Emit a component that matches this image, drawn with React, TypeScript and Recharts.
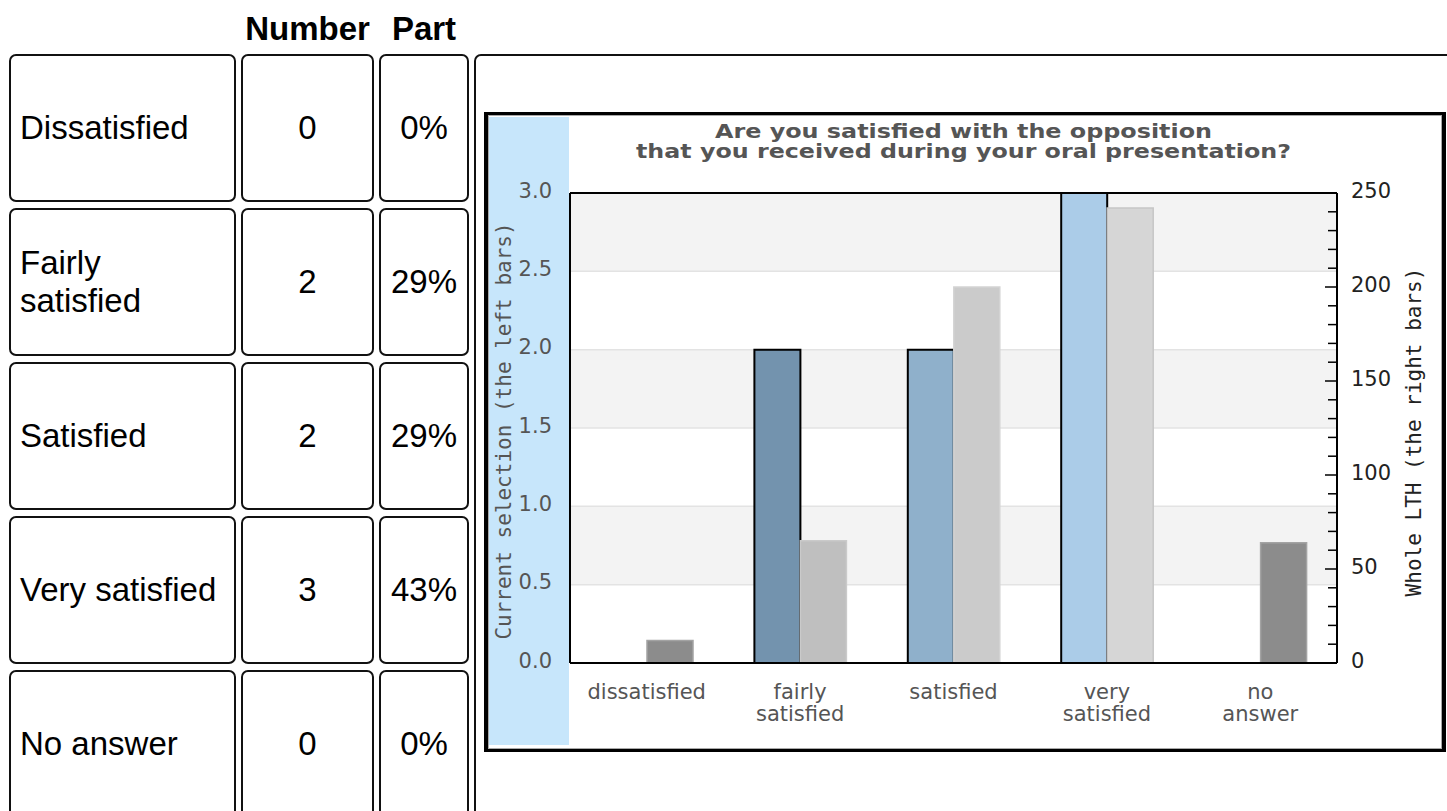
import React from 'react';
import { BarChart, Bar, XAxis, YAxis, CartesianGrid, Cell, ReferenceLine } from 'recharts';

// ---------- data ----------
const categories = ['dissatisfied', 'fairly satisfied', 'satisfied', 'very satisfied', 'no answer'];
const tickLabelLines = [['dissatisfied'], ['fairly', 'satisfied'], ['satisfied'], ['very', 'satisfied'], ['no', 'answer']];
const currentSelection = [0, 2, 2, 3, 0];
const wholeLTH = [12, 65, 200, 242, 64];
const leftTicks = [0, 0.5, 1, 1.5, 2, 2.5, 3];
const rightTicks = [0, 10, 20, 30, 40, 50, 60, 70, 80, 90, 100, 110, 120, 130, 140, 150, 160, 170, 180, 190, 200, 210, 220, 230, 240, 250];
const rightLabeledTicks = [0, 50, 100, 150, 200, 250];

const tableLabels = ['Dissatisfied', 'Fairly satisfied', 'Satisfied', 'Very satisfied', 'No answer'];
const tableCounts = ['0', '2', '2', '3', '0'];
const tableParts = ['0%', '29%', '29%', '43%', '0%'];

const titleLines = ['Are you satisfied with the opposition', 'that you received during your oral presentation?'];
const leftAxisTitle = 'Current selection (the left bars)';
const rightAxisTitle = 'Whole LTH (the right bars)';

// ---------- styles ----------
const currentColors = ['#7393ae', '#7393ae', '#8fb0cb', '#abcce8', '#abcce8'];
const wholeColors = ['#8c8c8c', '#bfbfbf', '#cbcbcb', '#d6d6d6', '#8c8c8c'];
const wholeStrokes = ['#a3a3a3', '#cacaca', '#d4d4d4', '#c6c6c6', '#a3a3a3'];

const data = categories.map((c, i) => ({ category: c, current: currentSelection[i], whole: wholeLTH[i] }));

const SANS = '"DejaVu Sans", sans-serif';
const MONO = '"DejaVu Sans Mono", monospace';
const HTMLFONT = '"Liberation Sans", Arial, Helvetica, sans-serif';

const LeftTick = (props: any) => {
  const { x, y, payload } = props;
  return (
    <text x={x} y={y + 4.6} textAnchor="end" fontFamily={SANS} fontSize={21} fill="#555">
      {Number(payload.value).toFixed(1)}
    </text>
  );
};

const RightTick = (props: any) => {
  const { x, y, payload } = props;
  const v = Number(payload.value);
  const major = rightLabeledTicks.includes(v);
  const axisX = x - 14;
  return (
    <g>
      <line x1={axisX - (major ? 12 : 9)} x2={axisX} y1={y} y2={y} stroke="#000" strokeWidth={1.5} />
      {major && (
        <text x={x} y={y + 4.6} textAnchor="start" fontFamily={SANS} fontSize={21} fill="#222">
          {v}
        </text>
      )}
    </g>
  );
};

const XTick = (props: any) => {
  const { x, y, payload } = props;
  const idx = categories.indexOf(payload.value);
  const lines = idx >= 0 ? tickLabelLines[idx] : [String(payload.value)];
  return (
    <g>
      {lines.map((l, i) => (
        <text key={i} x={x} y={y + 36 + i * 22} textAnchor="middle" fontFamily={SANS} fontSize={21} fill="#555">
          {l}
        </text>
      ))}
    </g>
  );
};

const LeftAxisLabel = (props: any) => {
  const vb = props.viewBox || { x: 0, y: 77, width: 82, height: 470 };
  const cx = vb.x + 16;
  const cy = vb.y + vb.height / 2 + 3;
  return (
    <text x={cx} y={cy} transform={`rotate(-90 ${cx} ${cy})`} textAnchor="middle" dominantBaseline="central"
      fontFamily={MONO} fontSize={21} fill="#555">
      {leftAxisTitle}
    </text>
  );
};

const RightAxisLabel = (props: any) => {
  const vb = props.viewBox || { x: 849, y: 77, width: 104, height: 470 };
  const cx = vb.x + 77;
  const cy = vb.y + vb.height / 2 + 4;
  return (
    <text x={cx} y={cy} transform={`rotate(-90 ${cx} ${cy})`} textAnchor="middle" dominantBaseline="central"
      fontFamily={MONO} fontSize={21} fill="#222">
      {rightAxisTitle}
    </text>
  );
};

const cellBase: React.CSSProperties = {
  position: 'absolute',
  boxSizing: 'border-box',
  border: '2px solid #111',
  borderRadius: 7,
  background: '#fff',
  display: 'flex',
  alignItems: 'center',
  fontFamily: HTMLFONT,
  fontSize: 33,
  lineHeight: '38px',
  color: '#000',
};

const colLefts = [9, 241, 379];
const colWidths = [227, 133, 90];

export default function App() {
  return (
    <div style={{ position: 'absolute', left: 0, top: 0, width: 1447, height: 811, overflow: 'hidden', background: '#fff' }}>
      {/* headers */}
      <div style={{ position: 'absolute', left: colLefts[1], top: 10, width: colWidths[1], textAlign: 'center', fontFamily: HTMLFONT, fontWeight: 'bold', fontSize: 33, lineHeight: '38px' }}>Number</div>
      <div style={{ position: 'absolute', left: colLefts[2], top: 10, width: colWidths[2], textAlign: 'center', fontFamily: HTMLFONT, fontWeight: 'bold', fontSize: 33, lineHeight: '38px' }}>Part</div>

      {/* table rows */}
      {tableLabels.map((label, i) => {
        const top = 54 + i * 154;
        return (
          <React.Fragment key={i}>
            <div style={{ ...cellBase, left: colLefts[0], top, width: colWidths[0], height: 148, paddingLeft: 9, paddingRight: 8 }}>{label}</div>
            <div style={{ ...cellBase, left: colLefts[1], top, width: colWidths[1], height: 148, justifyContent: 'center' }}>{tableCounts[i]}</div>
            <div style={{ ...cellBase, left: colLefts[2], top, width: colWidths[2], height: 148, justifyContent: 'center' }}>{tableParts[i]}</div>
          </React.Fragment>
        );
      })}

      {/* chart cell */}
      <div style={{ ...cellBase, left: 474, top: 54, width: 1000, height: 800 }} />

      {/* chart image frame */}
      <div style={{ position: 'absolute', left: 484, top: 112, width: 962, height: 640, boxSizing: 'border-box', borderStyle: 'solid', borderColor: '#000', borderWidth: '3px 4px', background: '#fff' }}>
        <div style={{ position: 'absolute', left: 0, top: 0, right: 0, bottom: 0, border: '1px solid #a8a8a8' }} />
      </div>
      {/* blue strip */}
      <div style={{ position: 'absolute', left: 489, top: 117, width: 80, height: 628, background: '#c7e6fb' }} />

      {/* title */}
      <svg style={{ position: 'absolute', left: 488, top: 116 }} width={953} height={70}>
        <text x={475.5} y={22} textAnchor="middle" fontFamily={SANS} fontWeight="bold" fontSize={19} fill="#555"
          textLength={497} lengthAdjust="spacingAndGlyphs">{titleLines[0]}</text>
        <text x={475.5} y={42} textAnchor="middle" fontFamily={SANS} fontWeight="bold" fontSize={19} fill="#555"
          textLength={655} lengthAdjust="spacingAndGlyphs">{titleLines[1]}</text>
      </svg>

      <div style={{ position: 'absolute', left: 488, top: 116 }}>
        <BarChart width={953} height={631} data={data} margin={{ top: 77, right: 0, bottom: 0, left: 0 }} barGap={0}>
          <CartesianGrid yAxisId="left" vertical={false} stroke="#e3e3e3" strokeWidth={1.5} horizontalFill={['#f3f3f3', '#ffffff']} />
          <XAxis dataKey="category" height={84} interval={0} tickSize={0} tickMargin={0} tickLine={false}
            axisLine={{ stroke: '#000', strokeWidth: 2 }} tick={<XTick />} />
          <YAxis yAxisId="left" orientation="left" width={82} domain={[0, 3]} ticks={leftTicks} interval={0}
            tickSize={0} tickMargin={18} tickLine={false} axisLine={{ stroke: '#000', strokeWidth: 2 }}
            tick={<LeftTick />} label={{ content: (p: any) => <LeftAxisLabel {...p} /> }} />
          <YAxis yAxisId="right" orientation="right" width={104} domain={[0, 250]} ticks={rightTicks} interval={0}
            tickSize={0} tickMargin={14} tickLine={false} axisLine={{ stroke: '#000', strokeWidth: 2 }}
            tick={<RightTick />} label={{ content: (p: any) => <RightAxisLabel {...p} /> }} />
          <Bar dataKey="current" yAxisId="left" barSize={46} isAnimationActive={false} stroke="#000" strokeWidth={2}>
            {data.map((d, i) => <Cell key={i} fill={currentColors[i]} />)}
          </Bar>
          <Bar dataKey="whole" yAxisId="right" barSize={46} isAnimationActive={false}>
            {data.map((d, i) => <Cell key={i} fill={wholeColors[i]} stroke={wholeStrokes[i]} strokeWidth={1.5} />)}
          </Bar>
          <ReferenceLine yAxisId="left" y={3} stroke="#000" strokeWidth={2} />
        </BarChart>
      </div>
    </div>
  );
}
